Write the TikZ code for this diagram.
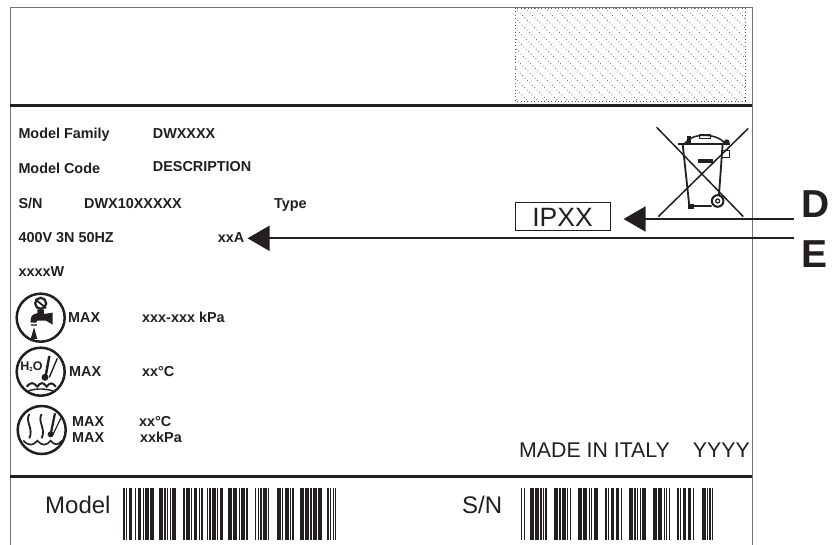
\documentclass[tikz,border=0pt]{standalone}
\usepackage{xcolor}
\usepackage{fontspec}
\setmainfont{Liberation Sans}
\usetikzlibrary{arrows.meta}
\definecolor{ink}{HTML}{231F20}
\newcommand{\bargroup}[2]{%
    \foreach \b/\g [remember=\nx as \cx (initially #1), evaluate=\b as \nx using \cx+\b+\g] in #2
        {\fill[ink] (\cx,487.7) rectangle ++(\b,52.3);}}
\begin{document}
\begin{tikzpicture}[x=1pt,y=-1pt]
        \tikzset{every node/.style={inner sep=0pt,text=ink},
            small/.style={anchor=base west,font=\fontsize{14.4}{15}\selectfont\bfseries},
            plain/.style={anchor=base west,font=\fontsize{24}{24}\selectfont},
            madein/.style={anchor=base west,font=\fontsize{21.3}{22}\selectfont},
            callout/.style={anchor=base west,font=\fontsize{39}{39}\selectfont\bfseries},
            iconring/.style={draw=ink,circle,line width=2.5pt,minimum size=48pt},
            pointer/.style={draw=ink,line width=1.6pt,-{Triangle[length=22pt,width=25pt]}},
            rule/.style={draw=ink,line width=3pt},
            frame/.style={draw=black!55,line width=.9pt},
            hatch/.style={black!65,line width=.5pt,dash pattern=on 1pt off 2.4pt},
            zoomone/.style={shift={(0,270)},x=0.3333pt,y=-0.3333pt},
            zoomtwo/.style={shift={(500,0)},x=0.3333pt,y=-0.3333pt}}
        \useasboundingbox (0,0) rectangle (840,545);
        \fill[white] (0,0) rectangle (840,545);
        % label frame
        \draw[frame] (10,545) -- (10,7) -- (752,7) -- (752,545);
        \draw[rule] (10,106) -- (752,106);
        \draw[rule] (10,476.5) -- (752,476.5);
        % hatched field
        \draw[hatch] (515,8) rectangle (745,101);
        \begin{scope}
            \clip (515,8) rectangle (745,101);
            \foreach \x in {425,435,...,745}
                \draw[hatch] (\x,8) -- (\x+93,101);
        \end{scope}
        % data lines
        \node[small] (family) at (18.3,139) {Model Family};
        \node[small] (familyval) at (152.7,139) {DWXXXX};
        \node[small] (code) at (18.3,173.5) {Model Code};
        \node[small] (codeval) at (152.7,171.7) {DESCRIPTION};
        \node[small] (serial) at (18.3,208.3) {S/N};
        \node[small] (serialval) at (84,208.3) {DWX10XXXXX};
        \node[small] (type) at (274,208.3) {Type};
        \node[small] (supply) at (18.3,242.3) {400V 3N 50HZ};
        \node[small] (amps) at (217.7,242.3) {xxA};
        \node[small] (watts) at (18.3,276.7) {xxxxW};
        \node[small] (maxone) at (68,322.5) {MAX};
        \node[small] (pressure) at (142,322.5) {xxx-xxx kPa};
        \node[small] (maxtwo) at (69,376.5) {MAX};
        \node[small] (temp) at (142,376.5) {xx°C};
        \node[small] (maxthree) at (72,426) {MAX};
        \node[small] (steamtemp) at (139,426) {xx°C};
        \node[small] (maxfour) at (72,442.5) {MAX};
        \node[small] (steamkpa) at (140,442.5) {xxkPa};
        \node[madein] (origin) at (519,457.3) {MADE IN ITALY};
        \node[madein] (year) at (692.7,457.3) {YYYY};
        \node[plain] (model) at (45,513) {Model};
        \node[plain] (sn) at (462,513) {S/N};
        % rating box and callouts
        \node[draw=ink,line width=1pt,minimum width=95pt,minimum height=28pt,
            font=\fontsize{26.5}{26.5}\selectfont] (ipbox) at (562.5,217) {IPXX};
        \node[callout] (labelD) at (801,218) {D};
        \node[callout] (labelE) at (801,267) {E};
        \coordinate (startD) at ([shift={(-7,1)}]labelD.base west);
        \coordinate (tipD) at ([shift={(13,2)}]ipbox.east);
        \coordinate (startE) at ([shift={(-7,-28.7)}]labelE.base west);
        \coordinate (tipE) at ([shift={(3,-4)}]amps.base east);
        \draw[pointer] (startD) -- (tipD);
        \draw[pointer] (startE) -- (tipE);
        % bin symbol
        \begin{scope}[zoomtwo]
            \draw[ink,line width=1.5pt] (470,382) -- (730,650);
            \draw[ink,line width=1.5pt] (745,385) -- (475,650);
            \draw[ink,line width=1.8pt] (548,432) -- (568,618) -- (635,618);
            \draw[ink,line width=1.8pt] (668,432) -- (657,585);
            \draw[ink,line width=2pt] (535,431) -- (690,431);
            \draw[ink,line width=1.5pt] (555,430) .. controls (575,398) and (650,398) .. (675,430);
            \fill[ink] (595,477) rectangle (640,490);
            \fill[ink] (565,612) rectangle (581,627);
            \fill[ink] (560,408) rectangle (572,430);
            \draw[ink,line width=.8pt] (598,404) rectangle (632,414);
            \draw[ink,line width=.8pt] (664,450) rectangle (688,472);
            \fill[ink] (680,427) circle[radius=3pt];
            \draw[ink,line width=2pt] (653,603) circle[radius=5.8pt];
            \draw[ink,line width=1.2pt] (653,603) circle[radius=2pt];
        \end{scope}
        % pressure symbol
        \node[iconring] (icontap) at (40.7,317.7) {};
        \begin{scope}[zoomone]
            \draw[ink,line width=2.2pt] (122,100) circle[radius=5.5pt];
            \draw[ink,line width=1.8pt] (106,88) -- (138,114);
            \fill[ink] (112,118) -- (132,118) -- (132,132) -- (158,128) -- (158,164) -- (138,152)
                -- (112,152) -- (108,158) -- (92,158) -- (92,148) .. controls (94,136) and (100,132) .. (112,130) -- cycle;
            \fill[black!60] (92,162) rectangle (110,168);
            \fill[ink] (102,172) -- (112,207) -- (92,207) -- cycle;
        \end{scope}
        % water temperature symbol
        \node[iconring] (iconwater) at (40.7,371.7) {};
        \node[font=\fontsize{12.5}{12.5}\selectfont\bfseries] (water) at (31.5,367)
            {H\raisebox{-1pt}{\fontsize{6}{6}\selectfont 2}O};
        \begin{scope}[zoomone]
            \draw[ink,line width=2.4pt] (148,258) -- (137,318);
            \fill[ink] (135,322) circle[radius=3.5pt];
            \draw[ink,line width=1.4pt] (172,265) -- (148,322);
            \draw[ink,line width=2pt] (80,350) .. controls (92,336) and (100,336) .. (112,350)
                .. controls (122,336) and (130,336) .. (140,350) .. controls (150,336) and (158,338) .. (168,350);
            \draw[ink,line width=1.4pt] (85,363) .. controls (105,355) and (135,355) .. (160,363);
        \end{scope}
        % steam symbol
        \node[iconring] (iconsteam) at (41.7,430) {};
        \begin{scope}[zoomone]
            \foreach \s in {88,125}
                \draw[ink,line width=1.8pt] (\s,432) .. controls (\s-14,455) and (\s+14,475) .. (\s,505);
            \draw[ink,line width=2.2pt] (165,430) -- (153,488);
            \fill[ink] (152,493) circle[radius=3pt];
            \draw[ink,line width=1.2pt] (185,440) -- (158,495);
            \draw[ink,line width=1.6pt] (70,512) .. controls (85,528) and (100,528) .. (112,512)
                .. controls (125,528) and (140,528) .. (152,512) .. controls (165,528) and (175,525) .. (186,512);
        \end{scope}
        % model barcode
        \foreach \gx/\pat in {
            123.3/{1.3/1.3,1.3/1.3,3.5/0},
            135/{1.3/1.3,3.8/1.3,1.3/1.3,3.8/1.3,3.8/0},
            159.3/{3.8/1.3,1.3/1.3,1.3/1.3,1.3/1.3,3.8/0},
            183.3/{1.3/1.3,3.8/1.3,1.3/1.3,3.8/1.3,1.3/1.3,1.3/0},
            206.7/{1.3/1.3,1.3/1.3,3.8/1.3,1.3/1.3,3.8/0},
            228.3/{3.8/1.3,3.8/1.3,1.3/1.3,3.8/1.3,1.3/0},
            255/{1.3/1.3,1.3/1.3,1.3/1.3,3.8/1.3,1.3/0},
            277/{3.8/1.3,1.3/1.3,3.8/1.3,1.3/1.3,1.3/0},
            300/{3.8/1.3,3.8/1.3,1.3/1.3,3.8/1.3,3.8/0},
            327.3/{1.3/1.3,1.3/1.3,1.3/1.3,1.3/0}}
            {\bargroup{\gx}{\pat}}
        % serial barcode
        \foreach \gx/\pat in {
            521/{1.3/1.3,1.3/0},
            530/{3.8/1.3,3.8/1.3,1.3/1.3,1.3/1.3,1.3/0},
            554.3/{3.8/1.3,1.3/1.3,3.8/1.3,1.3/1.3,1.3/0},
            578.3/{3.8/1.3,3.8/1.3,1.3/1.3,1.3/1.3,3.8/0},
            605.3/{1.3/1.3,1.3/1.3,3.8/1.3,3.8/1.3,1.3/0},
            629.3/{3.8/1.3,1.3/1.3,1.3/1.3,1.3/1.3,3.8/0},
            653.3/{3.8/1.3,3.8/1.3,1.3/1.3,1.3/1.3,1.3/0},
            677.3/{1.3/1.3,1.3/1.3,3.8/1.3,3.8/1.3,1.3/0},
            701.7/{3.8/1.3,1.3/1.3,1.3/1.3,1.3/0}}
            {\bargroup{\gx}{\pat}}
    \end{tikzpicture}
\end{document}
